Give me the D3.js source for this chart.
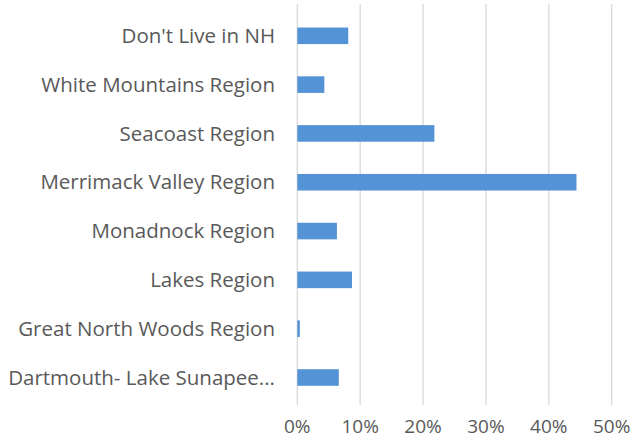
<!DOCTYPE html>
<html>
<head>
<meta charset="utf-8">
<script src="https://cdn.jsdelivr.net/npm/d3@7"></script>
<style>
    body { margin: 0; background: #fff; }
    svg text { font-family: "Open Sans", sans-serif; fill: #595959; }
</style>
</head>
<body>
<div id="chart"></div>
<script>
;(function () {

    var categories = [
        "Don't Live in NH",
        'White Mountains Region',
        'Seacoast Region',
        'Merrimack Valley Region',
        'Monadnock Region',
        'Lakes Region',
        'Great North Woods Region',
        'Dartmouth- Lake Sunapee...'
    ];
    var shares = [8.1, 4.3, 21.8, 44.4, 6.3, 8.7, 0.4, 6.6];
    var ticks = [0, 10, 20, 30, 40, 50];

    var width = 632
        , height = 440
        , margin = { top: 11.4, right: 20, bottom: 38, left: 297.3 };

    var svg = d3.select('#chart').append('svg')
        .attr('width', width)
        .attr('height', height);

    var x = d3.scaleLinear()
        .domain([0, 50])
        .range([margin.left, 611.7]);

    var y = d3.scaleBand()
        .domain(categories)
        .range([margin.top, 401.9])
        .paddingInner(0.66)
        .paddingOuter(0.33);

    // gridlines
    svg.append('g')
        .selectAll('line')
        .data(ticks)
        .enter().append('line')
        .attr('x1', function(d) { return x(d); })
        .attr('x2', function(d) { return x(d); })
        .attr('y1', 4)
        .attr('y2', 405)
        .attr('stroke', '#d9d9d9')
        .attr('stroke-width', 1.3);

    svg.append('g')
        .selectAll('rect')
        .data(shares)
        .enter().append('rect')
        .attr('x', x(0))
        .attr('y', function(d, i) { return y(categories[i]); })
        .attr('width', function(d) { return x(d) - x(0); })
        .attr('height', y.bandwidth())
        .attr('fill', '#5593d7');

    // category labels
    svg.append('g')
        .selectAll('text')
        .data(categories)
        .enter().append('text')
        .attr('x', 275)
        .attr('y', function(d) { return y(d) + y.bandwidth() / 2; })
        .attr('dy', '0.35em')
        .attr('text-anchor', 'end')
        .style('font-size', '20.5px')
        .text(function(d) { return d; });

    // tick labels (reference clips them at the bottom edge; keep them just inside)
    svg.append('g')
        .selectAll('text')
        .data(ticks)
        .enter().append('text')
        .attr('x', function(d) { return x(d); })
        .attr('y', 433)
        .attr('text-anchor', 'middle')
        .style('font-size', '19px')
        .text(function(d) { return d + '%'; });

}());
</script>
</body>
</html>
